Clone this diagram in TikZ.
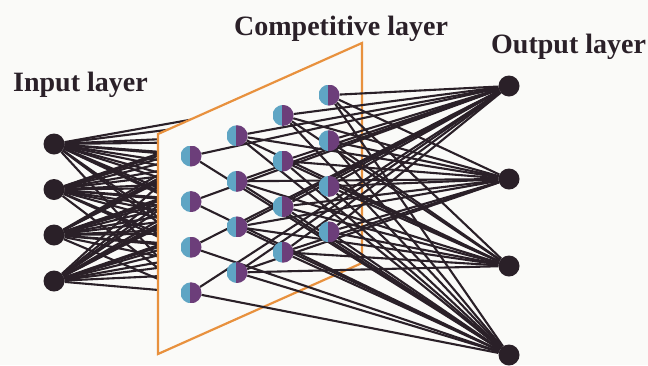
\documentclass[tikz,border=0pt]{standalone}
\usepackage{fontspec}
\setmainfont{Liberation Serif}
\usepackage{tikz}
\usetikzlibrary{positioning, calc, backgrounds}
\definecolor{wireblack}{RGB}{42, 32, 40}
\definecolor{unitcyan}{RGB}{95, 165, 196}
\definecolor{unitpurple}{RGB}{108, 62, 122}
\definecolor{sheetorange}{RGB}{232, 145, 62}
\definecolor{paper}{RGB}{250, 250, 248}
\pgfdeclarelayer{paperlayer}
\pgfdeclarelayer{inwires}
\pgfdeclarelayer{sheet}
\pgfdeclarelayer{outwires}
\pgfsetlayers{paperlayer,inwires,sheet,outwires,main}
\tikzset{
    neuron/.style={circle, fill=wireblack, inner sep=0pt, minimum size=21pt},
    compunit/.style={circle, inner sep=0pt, minimum size=21pt,
        path picture={
            \fill[unitcyan] (path picture bounding box.south west) rectangle ([xshift=-0.8pt]path picture bounding box.north);
            \fill[unitpurple] ([xshift=-0.8pt]path picture bounding box.south) rectangle (path picture bounding box.north east);
        }},
    wire/.style={draw=wireblack, line width=2.1pt},
    sheetedge/.style={draw=sheetorange, line width=2.2pt, fill=paper, line join=miter},
    layerlabel/.style={anchor=base west, inner sep=0pt, text=wireblack, font=\fontsize{28}{30}\selectfont\bfseries},
}

\begin{document}
\begin{tikzpicture}[x=1pt, y=-1pt]
    \begin{pgfonlayer}{paperlayer}
        \fill[paper] (0,0) rectangle (648,365);
    \end{pgfonlayer}
    \useasboundingbox (0,0) rectangle (648,365);

    % input layer
    \foreach \i/\y in {1/144, 2/189.5, 3/235, 4/281}
        \node[neuron] (in\i) at (54,\y) {};

    % output layer
    \foreach \o/\y in {1/86, 2/179, 3/266, 4/355}
        \node[neuron] (out\o) at (509,\y) {};

    % competitive layer, 4x4 grid sheared onto the sheet
    \foreach \c in {1,...,4}
        \foreach \r in {1,...,4}
            \node[compunit] (g\c\r) at ({191+46*(\c-1)}, {156-20.3*(\c-1)+45.6*(\r-1)}) {};

    % the sheet hides the input wires behind it
    \begin{pgfonlayer}{sheet}
        \path[sheetedge] (158,134) -- (362,43) -- (362,263) -- (158,354) -- cycle;
    \end{pgfonlayer}

    \begin{pgfonlayer}{inwires}
        \foreach \i in {1,...,4}
            \foreach \c in {1,...,4}
                \foreach \r in {1,...,4}
                    \draw[wire] (in\i) -- (g\c\r);
    \end{pgfonlayer}

    \begin{pgfonlayer}{outwires}
        % top and bottom outputs see every unit
        \foreach \o in {1,4}
            \foreach \c in {1,...,4}
                \foreach \r in {1,...,4}
                    \draw[wire] (g\c\r) -- (out\o);
        % middle outputs skip the front column
        \foreach \o in {2,3}
            \foreach \c in {2,3,4}
                \foreach \r in {1,...,4}
                    \draw[wire] (g\c\r) -- (out\o);
    \end{pgfonlayer}

    % labels
    \node[layerlabel] (inlabel) at (13,91) {Input layer};
    \node[layerlabel] (complabel) at (234,35) {Competitive layer};
    \node[layerlabel] (outlabel) at (491,53) {Output layer};
\end{tikzpicture}
\end{document}
